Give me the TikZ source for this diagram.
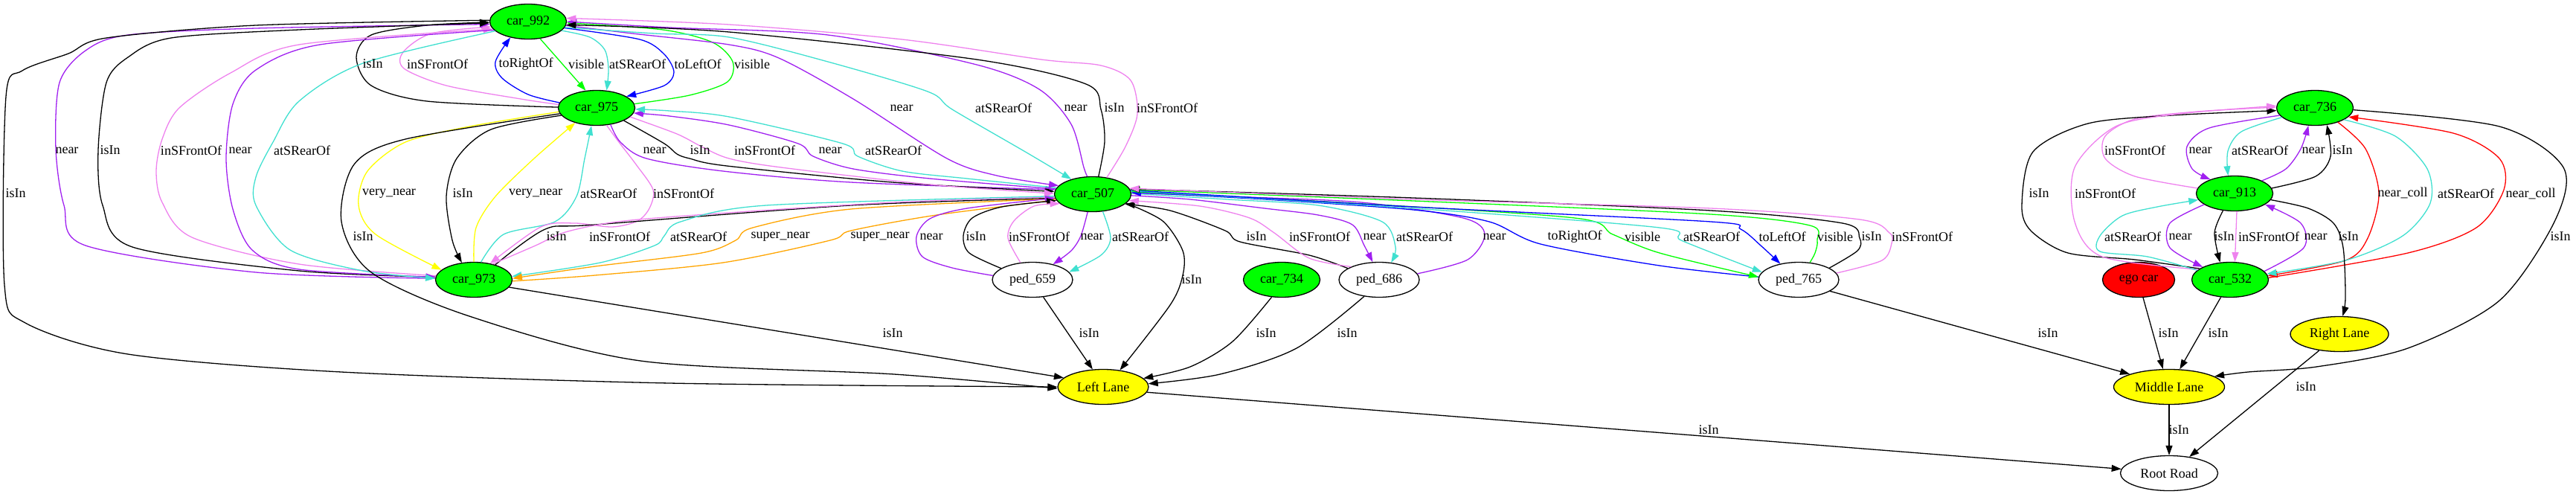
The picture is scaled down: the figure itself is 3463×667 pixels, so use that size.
\documentclass[tikz,border=0pt]{standalone}
\usepackage{fontspec}
\setmainfont{Liberation Serif}
\usetikzlibrary{shapes.geometric,arrows.meta}
\definecolor{gvgreen}{HTML}{00FF00}
\definecolor{gvyellow}{HTML}{FFFF00}
\definecolor{gvred}{HTML}{FF0000}
\definecolor{vio}{HTML}{EE82EE}
\definecolor{pur}{HTML}{A020F0}
\definecolor{tur}{HTML}{40E0D0}
\definecolor{blu}{HTML}{0000FF}
\definecolor{grn}{HTML}{00FF00}
\definecolor{ora}{HTML}{FFA500}
\definecolor{yel}{HTML}{FFFF00}
\definecolor{rd}{HTML}{FF0000}
\newcommand\gvfont{\fontsize{18}{21}\selectfont}
\newcommand\elab[3]{\node[lbl] (#1) at (#2) {#3};}
\begin{document}
\begin{tikzpicture}[x=1pt,y=-1pt,
  nd/.style={ellipse,draw,line width=1.3pt,minimum width=103pt,minimum height=47pt,inner sep=0pt,font=\gvfont},
  car/.style={nd,fill=gvgreen},
  ped/.style={nd,minimum width=108pt},
  lane/.style={nd,fill=gvyellow},
  ed/.style={line width=1.3pt,-{Triangle[length=13pt,width=9pt]}},
  lbl/.style={inner sep=0pt,font=\gvfont}
]
\useasboundingbox (0,0) rectangle (3463,667);
% nodes
\node[car] (c992) at (710,29) {car\_992};
\node[car] (c975) at (802,145) {car\_975};
\node[car] (c973) at (637,376) {car\_973};
\node[car] (c507) at (1469,261) {car\_507};
\node[ped] (p659) at (1388,376) {ped\_659};
\node[car] (c734) at (1723,376) {car\_734};
\node[ped] (p686) at (1854,376) {ped\_686};
\node[ped] (p765) at (2418,376) {ped\_765};
\node[car] (c736) at (3112,145) {car\_736};
\node[car] (c913) at (3004,260) {car\_913};
\node[car] (c532) at (2998,376) {car\_532};
\node[nd,fill=gvred,minimum width=97pt] (ego) at (2875,376) {ego car};
\node[lane,minimum width=132pt] (right) at (3145,449) {Right Lane};
\node[lane,minimum width=149pt] (middle) at (2916,520) {Middle Lane};
\node[lane,minimum width=122pt] (left) at (1483,520) {Left Lane};
\node[nd,minimum width=131pt] (root) at (2916,636) {Root Road};

% car_992 <-> car_975
\draw[ed,black] plot[smooth] coordinates {(c975.179) (574,136) (499,115) (479,77) (499,47) (574,34) (c992.181)};
\draw[ed,vio] plot[smooth] coordinates {(c975.175) (700,133) (600,115) (543,92) (542,70) (580,45) (c992.188)};
\draw[ed,blu] plot[smooth] coordinates {(c975.172) (710,127) (675,105) (666,83) (c992.222)};
\draw[ed,grn] (c992.305) -- (c975.122);
\draw[ed,tur] plot[smooth] coordinates {(c992.345) (793,50) (813,67) (818,93) (c975.60)};
\draw[ed,blu] plot[smooth] coordinates {(c992.350) (860,53) (893,73) (906,97) (893,115) (c975.21)};
\draw[ed,grn] plot[smooth] coordinates {(c975.6) (927,128) (978,110) (985,83) (958,57) (891,40) (c992.358)};

% car_992 <-> car_973 (left side)
\draw[ed,pur] plot[smooth] coordinates {(c973.178) (344,366) (115,330) (86,276) (75,200) (80,111) (115,68) (172,47) (344,38) (c992.184)};
\draw[ed,black] plot[smooth] coordinates {(c973.176) (402,364) (178,332) (138,276) (132,202) (143,111) (172,77) (230,51) (402,40) (c992.182)};
\draw[ed,vio] plot[smooth] coordinates {(c973.174) (402,355) (258,319) (218,272) (210,230) (218,187) (241,145) (310,98) (402,60) (c992.192)};
\draw[ed,pur] plot[smooth] coordinates {(c992.194) (430,60) (344,94) (313,140) (304,213) (313,281) (339,336) (402,362) (c973.176)};
\draw[ed,tur] plot[smooth] coordinates {(c992.196) (488,85) (402,136) (367,191) (344,238) (344,276) (390,336) (488,364) (c973.178)};
\draw[ed,black] plot[smooth] coordinates {(c992.178) (344,34) (143,51) (92,72) (30,95) (8,130) (6,383) (34,434) (172,476) (459,500) (900,515) (left.180)};

% car_975 <-> car_973
\draw[ed,yel] plot[smooth] coordinates {(c975.186) (631,170) (545,191) (494,230) (482,276) (505,315) (c973.163)};
\draw[ed,black] plot[smooth] coordinates {(c975.192) (660,174) (614,213) (600,264) (608,323) (c973.125)};
\draw[ed,yel] plot[smooth] coordinates {(c973.90) (640,306) (666,264) (718,213) (c975.215)};
\draw[ed,tur] plot[smooth] coordinates {(c973.68) (677,315) (746,298) (775,264) (786,213) (c975.254)};
\draw[ed,vio] plot[smooth] coordinates {(c975.300) (832,191) (855,221) (878,255) (873,280) (857,297) (823,305) (773,300) (727,305) (c973.45)};
\draw[ed,black] plot[smooth] coordinates {(c975.189) (545,187) (476,221) (459,298) (499,366) (631,425) (861,485) (1202,503) (left.182)};

% car_973 <-> car_507
\draw[ed,black] plot[smooth] coordinates {(c973.35) (733,308) (800,302) (1144,276) (c507.186)};
\draw[ed,vio] plot[smooth] coordinates {(c973.40) (720,330) (760,312) (830,298) (950,288) (1200,272) (c507.184)};
\draw[ed,tur] plot[smooth] coordinates {(c507.183) (1030,276) (915,298) (893,317) (880,330) (807,353) (c973.5)};
\draw[ed,ora] plot[smooth] coordinates {(c507.187) (1144,281) (1012,306) (989,323) (943,340) (800,358) (c973.2)};
\draw[ed,ora] plot[smooth] coordinates {(c973.358) (800,370) (972,353) (1116,323) (1144,310) (1259,289) (c507.189)};
\draw[ed,black] (c973.348) -- (left.167);

% car_975 <-> car_507
\draw[ed,pur] plot[smooth] coordinates {(c975.310) (834,191) (869,213) (972,230) (1144,245) (c507.173)};
\draw[ed,black] plot[smooth] coordinates {(c975.335) (893,193) (910,207) (927,213) (977,223) (1200,245) (c507.176)};
\draw[ed,vio] plot[smooth] coordinates {(c975.345) (910,180) (943,197) (980,213) (1050,225) (1250,248) (c507.179)};
\draw[ed,pur] plot[smooth] coordinates {(c507.172) (1250,240) (1147,227) (1093,210) (1073,193) (980,168) (900,156) (c975.352)};
\draw[ed,tur] plot[smooth] coordinates {(c507.170) (1300,240) (1213,230) (1153,210) (1133,193) (980,157) (900,149) (c975.358)};

% car_992 <-> car_507
\draw[ed,pur] plot[smooth] coordinates {(c992.354) (850,45) (980,60) (1047,78) (1147,133) (1273,213) (1340,236) (c507.166)};
\draw[ed,tur] plot[smooth] coordinates {(c992.351) (880,45) (980,50) (1113,83) (1247,123) (1280,147) (1380,205) (c507.145)};
\draw[ed,pur] plot[smooth] coordinates {(c507.107) (1457,225) (1440,167) (1397,120) (1313,87) (1113,47) (900,37) (c992.0)};
\draw[ed,black] plot[smooth] coordinates {(c507.72) (1485,190) (1480,147) (1460,113) (1313,80) (980,43) (c992.355)};
\draw[ed,vio] plot[smooth] coordinates {(c507.50) (1513,197) (1529,153) (1520,108) (1480,88) (1400,80) (1213,53) (980,33) (c992.5)};

% ped_659
\draw[ed,pur] plot[smooth] coordinates {(p659.174) (1280,360) (1240,345) (1232,318) (1250,294) (1300,280) (c507.186)};
\draw[ed,black] plot[smooth] coordinates {(p659.160) (1303,340) (1295,317) (1307,293) (1347,278) (c507.190)};
\draw[ed,vio] plot[smooth] coordinates {(p659.125) (1355,320) (1363,297) (1390,277) (c507.196)};
\draw[ed,pur] plot[smooth] coordinates {(c507.254) (1453,317) (1440,337) (p659.37)};
\draw[ed,tur] plot[smooth] coordinates {(c507.300) (1493,320) (1480,343) (p659.12)};
\draw[ed,black] (p659.302) -- (left.121);
\draw[ed,black] plot[smooth] coordinates {(c507.345) (1563,297) (1590,337) (1590,370) (1573,410) (left.45)};

% ped_686, car_734
\draw[ed,black] plot[smooth] coordinates {(p686.160) (1760,343) (1667,325) (1647,310) (1573,283) (c507.343)};
\draw[ed,vio] plot[smooth] coordinates {(p686.155) (1760,347) (1713,313) (1680,293) (1613,277) (c507.350)};
\draw[ed,pur] plot[smooth] coordinates {(c507.358) (1600,268) (1700,280) (1772,289) (1818,302) (1834,330) (p686.110)};
\draw[ed,tur] plot[smooth] coordinates {(c507.1) (1650,268) (1772,276) (1858,298) (1876,332) (p686.55)};
\draw[ed,pur] plot[smooth] coordinates {(p686.9) (1973,349) (1996,315) (1967,293) (1830,272) (1650,264) (c507.2)};
\draw[ed,black] plot[smooth] coordinates {(c734.240) (1657,459) (1600,493) (left.12)};
\draw[ed,black] plot[smooth] coordinates {(p686.228) (1743,468) (1640,503) (left.4)};

% ped_765
\draw[ed,blu] plot[smooth] coordinates {(p765.176) (2231,357) (2071,328) (2002,298) (1900,282) (1700,268) (c507.3)};
\draw[ed,grn] plot[smooth] coordinates {(c507.4) (1800,272) (2117,293) (2168,315) (2231,340) (p765.176)};
\draw[ed,tur] plot[smooth] coordinates {(c507.5) (1900,280) (2231,306) (2260,323) (2346,357) (p765.168)};
\draw[ed,blu] plot[smooth] coordinates {(c507.6) (1900,278) (2300,298) (2340,308) (2367,330) (p765.139)};
\draw[ed,grn] plot[smooth] coordinates {(p765.57) (2440,340) (2443,323) (2433,303) (2300,288) (1900,270) (c507.7)};
\draw[ed,black] plot[smooth] coordinates {(p765.21) (2497,337) (2500,320) (2477,300) (2300,283) (1900,266) (c507.8)};
\draw[ed,vio] plot[smooth] coordinates {(p765.10) (2530,350) (2543,327) (2540,313) (2500,295) (2300,280) (1900,268) (c507.9)};
\draw[ed,black] (p765.340) -- (middle.162);

% lanes
\draw[ed,black] (left.353) -- (root.175);
\draw[ed,black] (ego.284) -- (middle.109);
\draw[ed,black] (c532.242) -- (middle.59);
\draw[ed,black] (right.219) -- (root.39);
\draw[ed,black] (middle.270) -- (root.90);

% right cluster
\draw[ed,vio] plot[smooth] coordinates {(c913.172) (2870,237) (2830,213) (2830,183) (2870,160) (2953,150) (c736.179)};
\draw[ed,pur] plot[smooth] coordinates {(c736.192) (2970,172) (2940,197) (2947,227) (c913.150)};
\draw[ed,tur] plot[smooth] coordinates {(c736.196) (3013,177) (2995,203) (c913.110)};
\draw[ed,pur] plot[smooth] coordinates {(c913.25) (3073,227) (3093,200) (c736.250)};
\draw[ed,black] plot[smooth] coordinates {(c913.8) (3113,237) (3133,210) (c736.305)};
\draw[ed,rd] plot[smooth] coordinates {(c736.328) (3180,200) (3198,260) (3183,320) (3153,350) (c532.6)};
\draw[ed,rd] plot[smooth] coordinates {(c532.3) (3237,340) (3329,306) (3366,255) (3360,213) (3298,179) (c736.345)};
\draw[ed,tur] plot[smooth] coordinates {(c736.338) (3220,183) (3263,227) (3267,273) (3230,317) (3153,350) (c532.9)};
\draw[ed,black] plot[smooth] coordinates {(c532.160) (2870,349) (2780,340) (2730,310) (2718,276) (2733,204) (2807,166) (2920,155) (c736.184)};
\draw[ed,vio] plot[smooth] coordinates {(c532.162) (2826,345) (2789,298) (2789,225) (2844,170) (2930,153) (c736.177)};
\draw[ed,tur] plot[smooth] coordinates {(c532.164) (2887,345) (2823,338) (2823,317) (2853,290) (2900,278) (c913.190)};
\draw[ed,pur] plot[smooth] coordinates {(c913.200) (2917,300) (2917,333) (c532.155)};
\draw[ed,black] plot[smooth] coordinates {(c913.236) (2977,313) (c532.120)};
\draw[ed,vio] (c913.277) -- (c532.75);
\draw[ed,pur] plot[smooth] coordinates {(c532.14) (3097,333) (3093,300) (c913.340)};
\draw[ed,black] plot[smooth] coordinates {(c913.350) (3103,280) (3137,300) (3150,333) (3153,400) (right.80)};
\draw[ed,black] plot[smooth] coordinates {(c736.357) (3360,170) (3446,225) (3434,298) (3360,404) (3237,468) (3114,493) (3022,500) (middle.13)};

% labels
\elab{t1}{501,86}{isIn}
\elab{t2}{588,86}{inSFrontOf}
\elab{t3}{707,86}{toRightOf}
\elab{t4}{788,86}{visible}
\elab{t5}{857,86}{atSRearOf}
\elab{t6}{938,86}{toLeftOf}
\elab{t7}{1011,86}{visible}
\elab{t8}{1212,145}{near}
\elab{t9}{1349,145}{atSRearOf}
\elab{t10}{1446,145}{near}
\elab{t11}{1498,145}{isIn}
\elab{t12}{1569,145}{inSFrontOf}
\elab{t13}{90,202}{near}
\elab{t14}{148,202}{isIn}
\elab{t15}{257,202}{inSFrontOf}
\elab{t16}{323,202}{near}
\elab{t17}{406,202}{atSRearOf}
\elab{t18}{880,202}{near}
\elab{t19}{941,202}{isIn}
\elab{t20}{1028,202}{inSFrontOf}
\elab{t21}{1116,202}{near}
\elab{t22}{1201,202}{atSRearOf}
\elab{t23}{21,260}{isIn}
\elab{t24}{523,260}{very\_near}
\elab{t25}{622,260}{isIn}
\elab{t26}{720,260}{very\_near}
\elab{t27}{818,260}{atSRearOf}
\elab{t28}{919,260}{inSFrontOf}
\elab{t29}{488,318}{isIn}
\elab{t30}{748,318}{isIn}
\elab{t31}{833,318}{inSFrontOf}
\elab{t32}{939,318}{atSRearOf}
\elab{t33}{1049,318}{super\_near}
\elab{t34}{1183,318}{super\_near}
\elab{t35}{1252,318}{near}
\elab{t36}{1312,318}{isIn}
\elab{t37}{1397,318}{inSFrontOf}
\elab{t38}{1468,318}{near}
\elab{t39}{1533,318}{atSRearOf}
\elab{t40}{1689,318}{isIn}
\elab{t41}{1774,318}{inSFrontOf}
\elab{t42}{1848,318}{near}
\elab{t43}{1915,318}{atSRearOf}
\elab{t44}{2009,318}{near}
\elab{t45}{2117,318}{toRightOf}
\elab{t46}{2208,318}{visible}
\elab{t47}{2301,318}{atSRearOf}
\elab{t48}{2396,318}{toLeftOf}
\elab{t49}{2467,318}{visible}
\elab{t50}{2516,318}{isIn}
\elab{t51}{2584,318}{inSFrontOf}
\elab{t52}{1602,376}{isIn}
\elab{t53}{1200,448}{isIn}
\elab{t54}{1464,448}{isIn}
\elab{t55}{1702,448}{isIn}
\elab{t56}{1811,448}{isIn}
\elab{t57}{2753,448}{isIn}
\elab{t58}{2915,448}{isIn}
\elab{t59}{2982,448}{isIn}
\elab{t60}{2297,578}{isIn}
\elab{t61}{3100,520}{isIn}
\elab{t62}{2929,578}{isIn}
\elab{t63}{2870,202}{inSFrontOf}
\elab{t64}{2958,202}{near}
\elab{t65}{3038,202}{atSRearOf}
\elab{t66}{3110,202}{near}
\elab{t67}{3149,202}{isIn}
\elab{t68}{2741,260}{isIn}
\elab{t69}{2830,260}{inSFrontOf}
\elab{t70}{3230,259}{near\_coll}
\elab{t71}{3315,260}{atSRearOf}
\elab{t72}{3402,260}{near\_coll}
\elab{t73}{2867,318}{atSRearOf}
\elab{t74}{2931,318}{near}
\elab{t75}{2990,318}{isIn}
\elab{t76}{3050,318}{inSFrontOf}
\elab{t77}{3113,318}{near}
\elab{t78}{3157,318}{isIn}
\elab{t79}{3442,318}{isIn}
\end{tikzpicture}
\end{document}
